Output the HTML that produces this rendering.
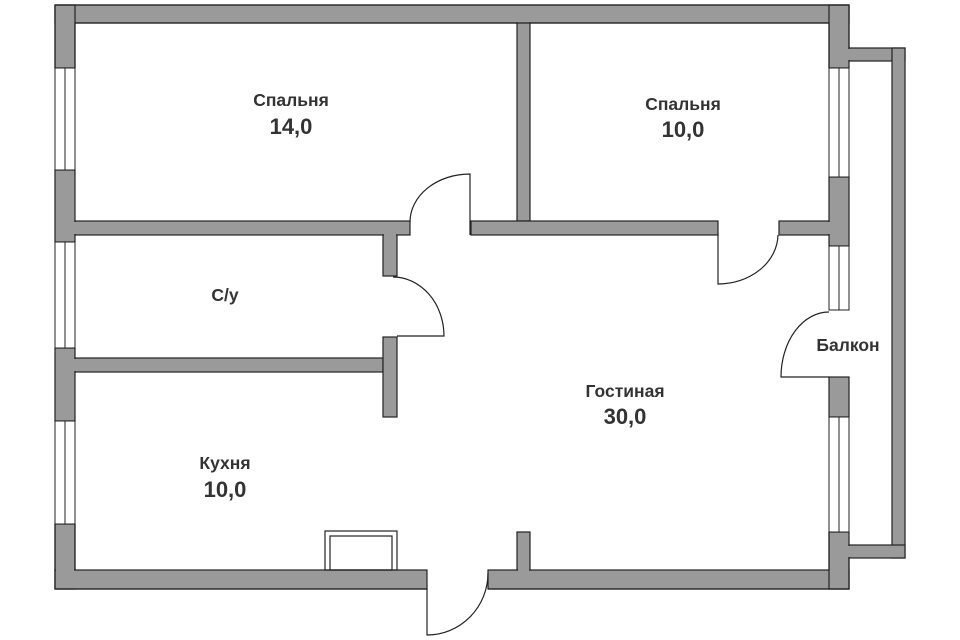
<!DOCTYPE html>
<html><head><meta charset="utf-8"><style>
html,body{margin:0;padding:0;background:#fff;}
svg{display:block}
text{font-family:"Liberation Sans",Arial,sans-serif;font-weight:bold;fill:#333;text-anchor:middle}
</style></head><body>
<svg width="960" height="640" viewBox="0 0 960 640" xmlns="http://www.w3.org/2000/svg">
<g fill="#9a9a9a" stroke="#222" stroke-width="1.2">
<rect x="55" y="5" width="794" height="18"/>
<rect x="55" y="5" width="20" height="63"/>
<rect x="55" y="170" width="20" height="72"/>
<rect x="55" y="348" width="20" height="73"/>
<rect x="55" y="524" width="20" height="65"/>
<rect x="55" y="570" width="372" height="19"/>
<rect x="488" y="570" width="361" height="19"/>
<rect x="829" y="5" width="20" height="63"/>
<rect x="829" y="177" width="20" height="69"/>
<rect x="829" y="377" width="20" height="40"/>
<rect x="829" y="532" width="20" height="57"/>
<rect x="849" y="48" width="56" height="13"/>
<rect x="892" y="48" width="13" height="510"/>
<rect x="849" y="545" width="56" height="13"/>
<rect x="517" y="23" width="13" height="198"/>
<rect x="75" y="221" width="335" height="14"/>
<rect x="471" y="221" width="247" height="14"/>
<rect x="779" y="221" width="50" height="14"/>
<rect x="383" y="235" width="14" height="41"/>
<rect x="75" y="358" width="308" height="14"/>
<rect x="383" y="337" width="14" height="80"/>
<rect x="517" y="532" width="13" height="38"/>
</g>
<g fill="#9a9a9a">
<rect x="56" y="6" width="18" height="61"/>
<rect x="830" y="6" width="18" height="61"/>
<rect x="56" y="525" width="18" height="63"/>
<rect x="830" y="533" width="18" height="55"/>
<rect x="518" y="20" width="11" height="6"/>
<rect x="72" y="222" width="6" height="12"/>
<rect x="518" y="222" width="11" height="12"/>
<rect x="826" y="222" width="6" height="12"/>
<rect x="384" y="222" width="12" height="14"/>
<rect x="72" y="359" width="6" height="12"/>
<rect x="384" y="359" width="12" height="12"/>
<rect x="518" y="568" width="11" height="4"/>
<rect x="846" y="49" width="6" height="11"/>
<rect x="893" y="49" width="11" height="11"/>
<rect x="893" y="546" width="11" height="11"/>
<rect x="846" y="546" width="6" height="11"/>
</g>
<g fill="none" stroke="#222" stroke-width="1.2">
<path d="M55 5 H849 V48 M75 23 H829 M75 23 V68 M55 5 V68 M829 23 V68 M849 5 V48"/>
<path d="M55 589 H427 M75 570 V524 M55 589 V524 M488 589 H849 V558 M829 570 V532"/>
</g>
<g fill="#fff" stroke="#222" stroke-width="1">
<rect x="55" y="68" width="20" height="102"/><line x1="65" y1="68" x2="65" y2="170"/>
<rect x="55" y="242" width="20" height="106"/><line x1="65" y1="242" x2="65" y2="348"/>
<rect x="55" y="421" width="20" height="103"/><line x1="65" y1="421" x2="65" y2="524"/>
<rect x="829" y="68" width="20" height="109"/><line x1="839" y1="68" x2="839" y2="177"/>
<rect x="829" y="246" width="20" height="64"/><line x1="839" y1="246" x2="839" y2="310"/>
<rect x="829" y="417" width="20" height="115"/><line x1="839" y1="417" x2="839" y2="532"/>
</g>
<g fill="none" stroke="#222" stroke-width="1.2">
<path d="M470 235 L470 174 A60 48 0 0 0 410 222"/>
<path d="M718 235 L718 284 A60 50 0 0 0 778 235"/>
<path d="M393 277 A51 59 0 0 1 444 336 L397 336"/>
<path d="M829 377 L781 377 A48 65 0 0 1 829 312"/>
<path d="M427 589 L427 635 A61 62 0 0 0 488 573"/>
<rect x="325" y="531" width="72" height="39"/>
<rect x="330" y="536" width="62" height="34"/>
</g>
<text x="291" y="106" font-size="17.5">Спальня</text>
<text x="291" y="134" font-size="22">14,0</text>
<text x="683" y="110" font-size="17.5">Спальня</text>
<text x="683" y="137" font-size="22">10,0</text>
<text x="225" y="301" font-size="17.5">С/у</text>
<text x="225" y="469" font-size="17.5">Кухня</text>
<text x="225" y="497" font-size="22">10,0</text>
<text x="625" y="397" font-size="17.5">Гостиная</text>
<text x="625" y="424" font-size="22">30,0</text>
<text x="848" y="351" font-size="17.5">Балкон</text>
</svg>
</body></html>
